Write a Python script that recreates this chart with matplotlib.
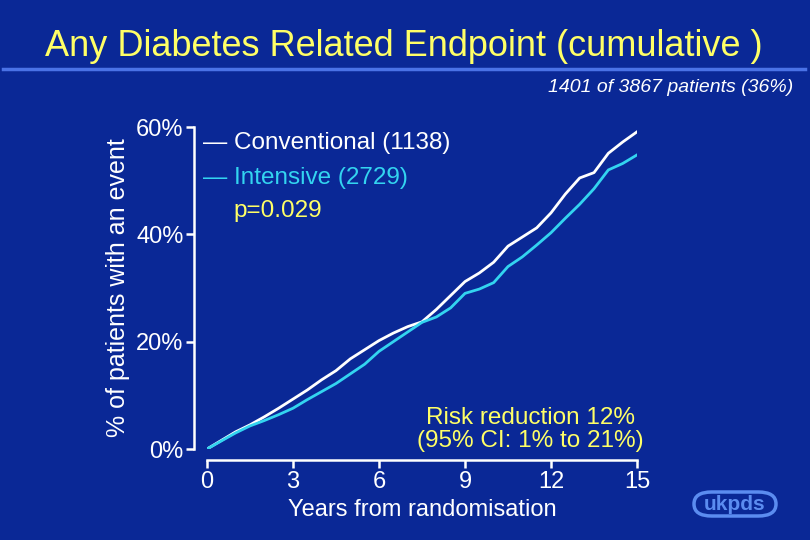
import matplotlib.pyplot as plt
from matplotlib.patches import FancyBboxPatch

# data (cumulative % with an event)
years = [0, 0.5, 1, 1.5, 2, 2.5, 3, 3.5, 4, 4.5, 5, 5.5, 6, 6.5, 7, 7.5,
         8, 8.5, 9, 9.5, 10, 10.5, 11, 11.5, 12, 12.5, 13, 13.5, 14, 14.5, 15]
conventional = [0, 1.6, 3.2, 4.5, 6.0, 7.6, 9.3, 11.0, 12.9, 14.6, 16.8, 18.5, 20.2, 21.6, 22.8, 23.7,
                26.0, 28.6, 31.2, 32.8, 34.8, 37.8, 39.5, 41.2, 44.0, 47.5, 50.5, 51.5, 55.1, 57.2, 59.1]
intensive = [0, 1.5, 3.0, 4.3, 5.3, 6.4, 7.6, 9.2, 10.7, 12.2, 14.0, 15.8, 18.2, 20.0, 21.8, 23.6,
             24.6, 26.3, 29.0, 29.8, 31.0, 34.0, 35.8, 38.0, 40.3, 43.0, 45.6, 48.5, 52.0, 53.2, 54.8]
x_ticks = [0, 3, 6, 9, 12, 15]
y_ticks = [0, 20, 40, 60]

BG = "#0a2896"
YEL = "#ffff66"
CYAN = "#33d4f0"
W, H = 810, 540

plt.rcParams["font.family"] = ["Liberation Sans", "DejaVu Sans"]

fig = plt.figure(figsize=(8.1, 5.4), dpi=100, facecolor=BG)

# title + rule
fig.text(404 / W, 1 - 47 / H, "Any Diabetes Related Endpoint (cumulative )", color=YEL,
         fontsize=26, ha="center", va="center")
fig.add_artist(plt.Line2D([3 / W, 805 / W], [1 - 69 / H, 1 - 69 / H], color="#4a72e6", lw=2.5))
fig.text(793 / W, 1 - 88 / H, "1401 of 3867 patients (36%)", color="white",
         fontsize=14, style="italic", ha="right", va="center")

ax = fig.add_axes([207 / W, 1 - 449 / H, 430 / W, 322 / H])
ax.set_facecolor(BG)
ax.plot(years, conventional, color="white", lw=2)
ax.plot(years, intensive, color=CYAN, lw=2)
ax.set_xlim(0, 15)
ax.set_ylim(0, 60)
ax.set_xticks(x_ticks)
ax.set_yticks(y_ticks)
ax.set_yticklabels([f"{v}%" for v in y_ticks])
for s in ["top", "right"]:
    ax.spines[s].set_visible(False)
ax.spines["left"].set_position(("outward", 9))
ax.spines["bottom"].set_position(("outward", 8))
for s in ["left", "bottom"]:
    ax.spines[s].set_color("white")
    ax.spines[s].set_linewidth(1.8)
ax.tick_params(colors="white", labelsize=17, width=1.8, length=6, pad=2)
ax.set_xlabel("Years from randomisation", color="white", fontsize=17, labelpad=4)
ax.set_ylabel("% of patients with an event", color="white", fontsize=18, labelpad=4)

# legend-like text
fig.text(203 / W, 1 - 143 / H, "— Conventional (1138)", color="white", fontsize=17.5, va="center")
fig.text(203 / W, 1 - 178 / H, "— Intensive (2729)", color=CYAN, fontsize=17.5, va="center")
fig.text(233 / W, 1 - 211 / H, "p=0.029", color=YEL, fontsize=17.5, va="center")
fig.text(530 / W, 1 - 418 / H, "Risk reduction 12%", color=YEL, fontsize=17.5, ha="center", va="center")
fig.text(530 / W, 1 - 441 / H, "(95% CI: 1% to 21%)", color=YEL, fontsize=17.5, ha="center", va="center")

# ukpds badge
badge = FancyBboxPatch((694 / W, 1 - 516 / H), 82 / W, 24 / H, transform=fig.transFigure,
                       boxstyle="round,pad=0,rounding_size=0.022", facecolor=BG,
                       edgecolor="#5b8cf0", lw=2.5)
fig.add_artist(badge)
fig.text(735 / W, 1 - 504 / H, "ukpds", color="#5b8cf0", fontsize=15, fontweight="bold",
         ha="center", va="center")

fig.savefig("out.png", dpi=100, facecolor=BG)
